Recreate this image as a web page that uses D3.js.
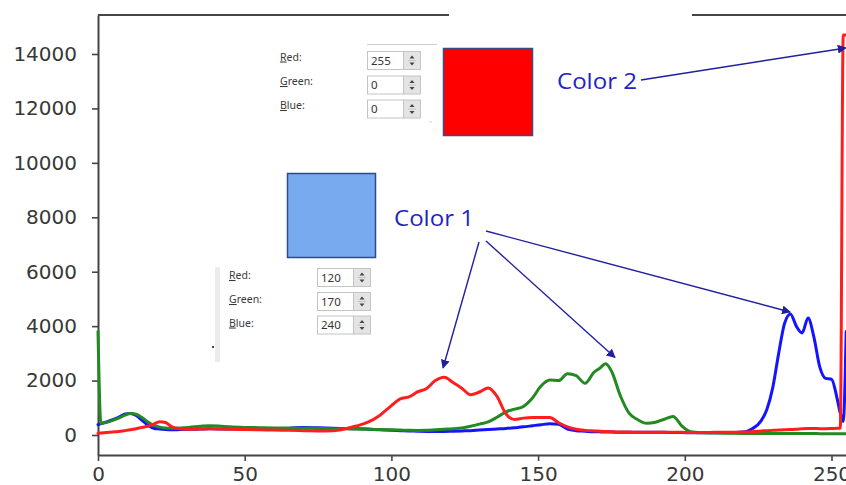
<!DOCTYPE html>
<html><head><meta charset="utf-8">
<script src="https://cdn.jsdelivr.net/npm/d3@7"></script>
<style>html,body{margin:0;padding:0;background:#fff;} svg{display:block;}</style>
</head><body><svg id="c" width="846" height="485"></svg>
<script>
const bins = [0,1,3,5,7,9,11,13,15,17,
  19,21,23,25,28,31,35,38,41,45,
  50,55,60,65,70,75,80,84,88,92,
  96,100,103,106,109,112,115,118,121,124,
  127,130,133,136,139,142,145,148,151,154,
  157,160,163,166,169,171,173,175,178,181,
  184,187,190,193,196,199,202,206,210,215,
  220,223,226,228,230,232,234,236,238,240,
  242,244,246,248,250,252,253,254,255];
const blueCounts = [380,420,480,560,650,760,790,720,540,360,
  250,220,200,190,200,210,220,230,220,220,
  230,230,240,250,280,270,250,240,230,220,
  190,170,160,150,140,130,130,130,140,150,
  160,180,200,220,240,270,300,340,380,410,
  390,220,160,140,120,115,110,110,100,100,
  100,100,100,100,90,90,80,80,80,80,
  110,230,520,950,1750,3000,4100,4450,4000,3750,
  4300,3600,2500,2080,2050,1300,800,500,3800];
const greenCounts = [3800,420,470,540,620,720,790,760,640,480,
  350,290,260,250,260,280,320,340,330,300,
  280,270,260,250,250,240,230,230,220,210,
  200,190,180,170,165,170,190,210,230,260,
  320,400,480,650,850,950,1050,1350,1800,2020,
  2000,2250,2180,1900,2300,2450,2620,2350,1450,800,
  560,430,470,580,680,330,120,80,70,60,
  55,55,55,55,55,55,55,55,55,55,
  55,55,50,50,50,50,50,50,50];
const redCounts = [60,70,90,110,130,160,190,230,280,320,
  400,490,460,310,230,210,220,230,220,210,
  200,190,180,170,160,150,160,220,330,470,
  720,1080,1330,1400,1590,1710,2000,2120,1930,1720,
  1480,1580,1730,1420,780,570,620,640,640,640,
  450,300,210,170,150,140,130,120,110,110,
  100,100,100,100,100,100,90,90,100,100,
  110,120,150,160,170,180,190,200,210,230,
  240,240,230,230,240,250,260,14700,14700];
const xTicks = [0,50,100,150,200,250];
const yTicks = [0,2000,4000,6000,8000,10000,12000,14000];
const fieldLabels = ["Red", "Green", "Blue"];
const color1Values = [120,170,240];
const color2Values = [255,0,0];

const svg = d3.select("#c");
const x = d3.scaleLinear().domain([0,260]).range([98, 98 + 260*2.934]);
const y = d3.scaleLinear().domain([-735,15433]).range([455,15]);

const axisColor = "#454545";
const fmt = d3.format("d");
const gx = svg.append("g").attr("transform","translate(0,455)")
  .call(d3.axisBottom(x).tickValues(xTicks).tickFormat(fmt).tickSize(6).tickSizeOuter(0).tickPadding(6));
const gy = svg.append("g").attr("transform","translate(98,0)")
  .call(d3.axisLeft(y).tickValues(yTicks).tickFormat(fmt).tickSize(6).tickSizeOuter(0).tickPadding(15));
[gx, gy].forEach(g => {
  g.selectAll("path.domain").attr("stroke", axisColor).attr("stroke-width", 2);
  g.selectAll(".tick line").attr("stroke", axisColor).attr("stroke-width", 1.6);
  g.selectAll(".tick text").attr("fill", "#383838")
    .style("font-family", "DejaVu Sans, sans-serif").style("font-size", "20px");
});
svg.append("line").attr("x1", 98).attr("x2", 846).attr("y1", 15).attr("y2", 15)
  .attr("stroke", axisColor).attr("stroke-width", 2);

const series = [
  {values: blueCounts, color: "#1414ff"},
  {values: greenCounts, color: "#238a23"},
  {values: redCounts, color: "#ff1e1e"}
];
const line = d3.line().x((d,i) => x(bins[i])).y(d => y(d)).curve(d3.curveMonotoneX);
svg.append("g").selectAll("path").data(series).join("path")
  .attr("d", d => line(d.values))
  .attr("fill", "none").attr("stroke", d => d.color)
  .attr("stroke-width", 3).attr("stroke-linejoin", "round").attr("stroke-linecap","round");

svg.append("rect").attr("x", 449).attr("y", 6).attr("width", 243).attr("height", 16).attr("fill", "#fff");

function dialog(labelX, boxX, rowsY, values, labelDy) {
  const g = svg.append("g").style("font-family", "'Noto Sans', 'Open Sans', sans-serif");
  fieldLabels.forEach((lab, i) => {
    const t = g.append("text").attr("x", labelX).attr("y", rowsY[i] + labelDy)
      .attr("fill", "#3a3a3a").style("font-size", "10.5px");
    t.append("tspan").attr("text-decoration", "underline").text(lab[0]);
    t.append("tspan").text(lab.slice(1) + ":");
    const by = rowsY[i];
    g.append("rect").attr("x", boxX + 0.5).attr("y", by + 0.5).attr("width", 36).attr("height", 18)
      .attr("fill", "#fff").attr("stroke", "#c4c4c4");
    g.append("text").attr("x", boxX + 4).attr("y", by + 13.5).attr("fill", "#333")
      .style("font-size", "11.5px").text(values[i]);
    g.append("rect").attr("x", boxX + 36.5).attr("y", by + 0.5).attr("width", 17).attr("height", 18)
      .attr("fill", "#e4e4e4").attr("stroke", "#c4c4c4");
    const cx = boxX + 45, cy = by + 9.5;
    g.append("path").attr("d", `M${cx-2.5},${cy-2}L${cx+2.5},${cy-2}L${cx},${cy-5}Z`).attr("fill", "#444");
    g.append("path").attr("d", `M${cx-2.5},${cy+2}L${cx+2.5},${cy+2}L${cx},${cy+5}Z`).attr("fill", "#444");
    g.append("line").attr("x1", cx - 4).attr("x2", cx + 4).attr("y1", cy).attr("y2", cy)
      .attr("stroke", "#bdbdbd").attr("stroke-width", 0.8);
  });
  return g;
}
dialog(280, 367, [51, 75.5, 99.5], color2Values, 9.5);
svg.append("line").attr("x1", 367).attr("x2", 437).attr("y1", 44.5).attr("y2", 44.5).attr("stroke", "#cfcfcf");
svg.append("line").attr("x1", 429).attr("x2", 432).attr("y1", 122).attr("y2", 122).attr("stroke", "#d6d6d6");

dialog(229, 317, [268, 292, 315.5], color1Values, 11);
svg.append("rect").attr("x", 215).attr("y", 267).attr("width", 5).attr("height", 95).attr("fill", "#ececec");
svg.append("rect").attr("x", 212).attr("y", 346).attr("width", 2).attr("height", 2).attr("fill", "#444");

svg.append("rect").attr("x", 443.5).attr("y", 48.5).attr("width", 89).attr("height", 87)
  .attr("fill", "rgb(255,0,0)").attr("stroke", "#3b4a86").attr("stroke-width", 1.5);
svg.append("rect").attr("x", 287.5).attr("y", 173.5).attr("width", 88).attr("height", 84)
  .attr("fill", `rgb(${color1Values.join(",")})`).attr("stroke", "#2f4a8a").attr("stroke-width", 1.5);

const annoColor = "#1f1fa0";
svg.append("defs").append("marker").attr("id", "ah")
  .attr("viewBox", "0 0 10 10").attr("refX", 9).attr("refY", 5)
  .attr("markerWidth", 9).attr("markerHeight", 9).attr("markerUnits", "userSpaceOnUse")
  .attr("orient", "auto")
  .append("path").attr("d", "M0,0L10,5L0,10Z").attr("fill", annoColor);

const textColor = "#2323c4";
svg.append("text").attr("x", 557).attr("y", 89).attr("fill", textColor)
  .attr("textLength", 80).attr("lengthAdjust", "spacingAndGlyphs")
  .style("font-family", "'Open Sans', sans-serif").style("font-size", "21px").text("Color 2");
svg.append("text").attr("x", 394).attr("y", 226).attr("fill", textColor)
  .attr("textLength", 80).attr("lengthAdjust", "spacingAndGlyphs")
  .style("font-family", "'Open Sans', sans-serif").style("font-size", "21px").text("Color 1");

const arrows = [
  {from: [641, 80], to: [254.9, 14222]},
  {from: [479, 242], to: [117.6, 2462]},
  {from: [486, 241], to: [176.2, 2848]},
  {from: [486, 231], to: [235.9, 4520]}
];
svg.append("g").selectAll("line").data(arrows).join("line")
  .attr("x1", d => d.from[0]).attr("y1", d => d.from[1])
  .attr("x2", d => x(d.to[0])).attr("y2", d => y(d.to[1]))
  .attr("stroke", annoColor).attr("stroke-width", 1.4).attr("marker-end", "url(#ah)");
</script></body></html>
